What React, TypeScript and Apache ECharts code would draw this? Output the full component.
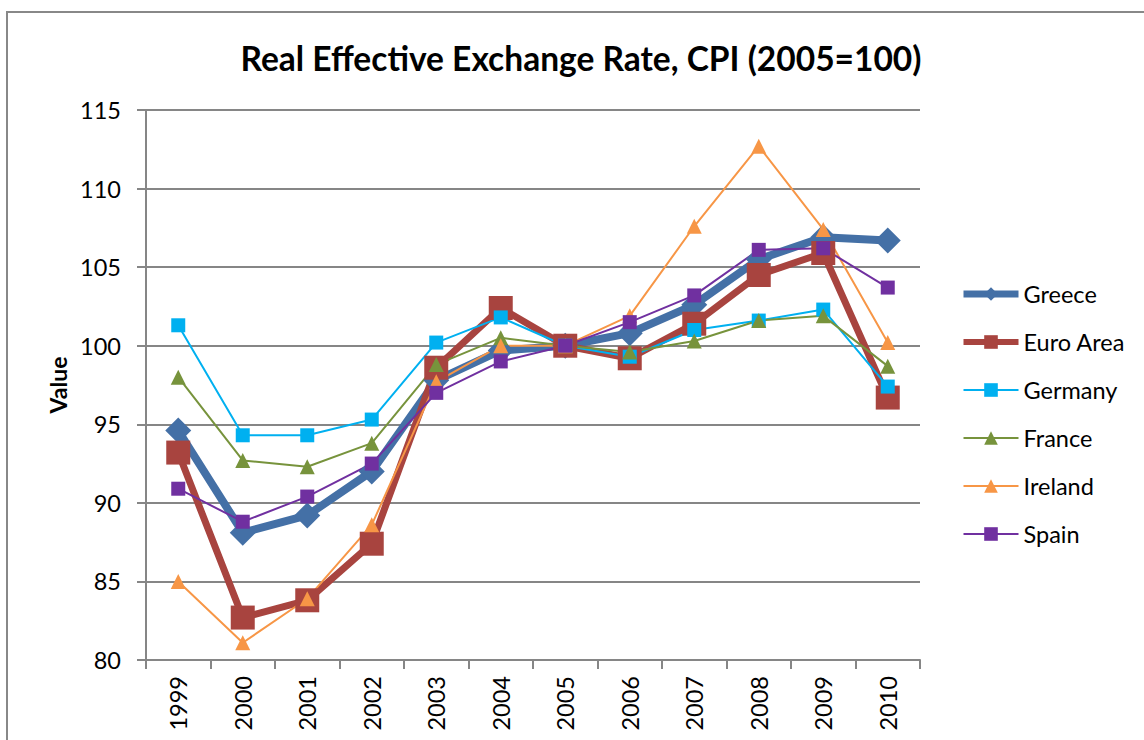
import React, { useEffect, useRef } from "react";
import * as echarts from "echarts";

const years = ["1999", "2000", "2001", "2002", "2003", "2004", "2005", "2006", "2007", "2008", "2009", "2010"];
const greece = [94.6, 88.1, 89.2, 92.0, 97.8, 99.7, 100.0, 100.8, 102.6, 105.5, 106.9, 106.7];
const euroArea = [93.2, 82.7, 83.8, 87.4, 98.6, 102.4, 100.0, 99.2, 101.4, 104.5, 105.9, 96.7];
const germany = [101.3, 94.3, 94.3, 95.3, 100.2, 101.8, 100.0, 99.3, 101.0, 101.6, 102.3, 97.4];
const france = [98.0, 92.7, 92.3, 93.8, 98.8, 100.5, 100.0, 99.6, 100.3, 101.6, 101.9, 98.7];
const ireland = [85.0, 81.1, 83.9, 88.6, 97.7, 100.0, 100.0, 101.9, 107.6, 112.7, 107.4, 100.2];
const spain = [90.9, 88.8, 90.4, 92.5, 97.0, 99.0, 100.0, 101.5, 103.2, 106.1, 106.2, 103.7];
const yTicks = { min: 80, max: 115, interval: 5 };

const FONT = "Lato, 'Open Sans', sans-serif";

export default function App() {
  const ref = useRef<HTMLDivElement>(null);
  useEffect(() => {
    if (!ref.current) return;
    const chart = echarts.init(ref.current, undefined, { renderer: "svg" });
    const mk = (name: string, data: number[], color: string, width: number, symbol: string, size: number) => ({
      name,
      type: "line",
      data,
      symbol,
      symbolSize: size,
      showSymbol: true,
      lineStyle: { color, width },
      itemStyle: { color },
      emphasis: { disabled: true },
    });
    chart.setOption({
      animation: false,
      backgroundColor: "#ffffff",
      textStyle: { fontFamily: FONT },
      title: {
        text: "Real Effective Exchange Rate, CPI (2005=100)",
        left: 576,
        top: 36,
        textAlign: "center",
        textStyle: { fontFamily: FONT, fontSize: 33.5, fontWeight: "bold", color: "#000" },
      },
      graphic: [
        {
          type: "rect",
          shape: { x: 7, y: 12, width: 1160, height: 760 },
          style: { fill: "none", stroke: "#888888", lineWidth: 2 },
          silent: true,
        },
      ],
      grid: { left: 146, right: 224, top: 110, bottom: 80, containLabel: false },
      legend: {
        orient: "vertical",
        left: 955,
        top: 276,
        itemWidth: 55,
        itemHeight: 17,
        itemGap: 22,
        textStyle: { fontFamily: FONT, fontSize: 23.5, color: "#000", lineHeight: 26 },
        data: [
          { name: "Greece", lineStyle: { width: 7 } },
          { name: "Euro Area", lineStyle: { width: 6 } },
          { name: "Germany", lineStyle: { width: 2 } },
          { name: "France", lineStyle: { width: 2 } },
          { name: "Ireland", lineStyle: { width: 2 } },
          { name: "Spain", lineStyle: { width: 2 } },
        ],
      },
      xAxis: {
        type: "category",
        data: years,
        boundaryGap: true,
        axisLine: { lineStyle: { color: "#868686", width: 2 } },
        axisTick: { show: true, length: 9, alignWithLabel: false, lineStyle: { color: "#868686", width: 2 } },
        axisLabel: { rotate: 90, margin: 16, fontFamily: FONT, fontSize: 23.5, color: "#000" },
        splitLine: { show: false },
      },
      yAxis: {
        type: "value",
        min: yTicks.min,
        max: yTicks.max,
        interval: yTicks.interval,
        name: "Value",
        nameLocation: "middle",
        nameGap: 76,
        nameTextStyle: { fontFamily: FONT, fontSize: 23, fontWeight: "bold", color: "#000" },
        axisLine: { show: true, lineStyle: { color: "#868686", width: 2 } },
        axisTick: { show: true, length: 9, lineStyle: { color: "#868686", width: 2 } },
        axisLabel: { margin: 25, fontFamily: FONT, fontSize: 23.5, color: "#000" },
        splitLine: { show: true, lineStyle: { color: "#868686", width: 2 } },
      },
      series: [
        mk("Greece", greece, "#4470A6", 8, "diamond", 26),
        mk("Euro Area", euroArea, "#A8443F", 7, "rect", 24),
        mk("Germany", germany, "#00B0F0", 2, "rect", 14),
        mk("France", france, "#77933C", 2, "triangle", 15),
        mk("Ireland", ireland, "#F79646", 2, "triangle", 15),
        mk("Spain", spain, "#7030A0", 2, "rect", 14),
      ],
    });
    return () => chart.dispose();
  }, []);
  return (
    <div
      ref={ref}
      style={{ position: "absolute", left: 0, top: 0, width: 1144, height: 740, background: "#fff" }}
    />
  );
}
